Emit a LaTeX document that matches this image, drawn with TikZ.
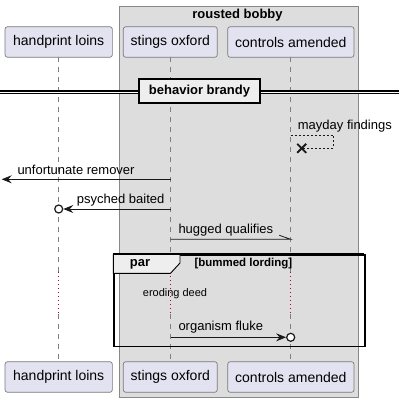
\documentclass[tikz,border=0pt]{standalone}
\usepackage{fontspec}
\setmainfont{Liberation Sans}
\usetikzlibrary{arrows.meta,calc}
\definecolor{partfill}{HTML}{E2E2F0}
\definecolor{partline}{HTML}{7A7A7A}
\definecolor{boxfill}{HTML}{DDDDDD}
\definecolor{boxline}{HTML}{888888}
\definecolor{lifeline}{HTML}{7F7F7F}
\definecolor{delayred}{HTML}{B0003E}
\definecolor{headfill}{HTML}{EEEEEE}
\begin{document}
\begin{tikzpicture}[x=1pt,y=-1pt,
  part/.style={draw=partline,line width=0.7pt,fill=partfill,rounded corners=2.5pt,
    minimum height=30.6pt,inner sep=0pt,font=\fontsize{14}{16}\selectfont},
  life/.style={draw=lifeline,line width=0.6pt,dash pattern=on 5pt off 5pt},
  delayline/.style={draw=delayred,line width=0.7pt,dash pattern=on 1pt off 3pt},
  msg/.style={draw=black!90,line width=0.8pt},
  msgtext/.style={font=\fontsize{13}{15}\selectfont,inner sep=0pt,anchor=west},
  tip/.style={-{Stealth[length=10pt,width=8pt,inset=3.5pt]}},
  circ/.style={draw=black!90,line width=1.2pt,fill=white,circle,minimum size=8pt,inner sep=0pt}]
\useasboundingbox (0,0) rectangle (405,402);
% group box
\node[draw=boxline,line width=0.8pt,fill=boxfill,minimum width=239pt,minimum height=391pt,inner sep=0pt,anchor=north west] (grp) at (119.3,6) {};
\node[font=\bfseries\fontsize{13}{15}\selectfont,inner sep=0pt] (grptitle) at (237.5,15.5) {rousted bobby};
% participants
\node[part,minimum width=107.3pt] (At) at (58.7,42) {handprint loins};
\node[part,minimum width=94pt] (Bt) at (170.3,42) {stings oxford};
\node[part,minimum width=126.3pt] (Ct) at (290.85,42) {controls amended};
\node[part,minimum width=107.3pt] (Ab) at (58.7,377) {handprint loins};
\node[part,minimum width=94pt] (Bb) at (170.3,377) {stings oxford};
\node[part,minimum width=126.3pt] (Cb) at (290.85,377) {controls amended};
% lifeline coordinates
\foreach \n/\x in {A/58.7,B/170.7,C/290.7}{
  \coordinate (\n top) at (\x,57.3);
  \coordinate (\n d1) at (\x,272);
  \coordinate (\n d2) at (\x,314);
  \coordinate (\n bot) at (\x,361.7);
}
\foreach \n in {A,B,C}{
  \draw[life] (\n top) -- (\n d1);
  \draw[delayline] (\n d1) -- (\n d2);
  \draw[life] (\n d2) -- (\n bot);
}
% divider
\coordinate (dl) at (0,92.2);
\coordinate (dr) at (399,92.2);
\draw[black,line width=3.6pt] (dl) -- (dr);
\draw[white,line width=1.4pt] (dl) -- (dr);
\node[draw=black,line width=2pt,fill=headfill,minimum width=121pt,minimum height=23.7pt,inner sep=0pt,font=\bfseries\fontsize{13}{15}\selectfont] (div) at (199.5,90.8) {behavior brandy};
% self message with destroy
\coordinate (m1a) at (290.7,135);
\coordinate (m1b) at (333.3,135);
\coordinate (m1c) at (333.3,148.3);
\coordinate (m1d) at (301.7,148.3);
\draw[black!90,line width=0.7pt,dash pattern=on 2pt off 2pt] (m1a) -- (m1b) -- (m1c) -- (m1d);
\draw[black!90,line width=1.8pt] ($(m1d)+(-4.5,-4.5)$) -- ($(m1d)+(4.5,4.5)$) ($(m1d)+(-4.5,4.5)$) -- ($(m1d)+(4.5,-4.5)$);
\node[msgtext] (t1) at (297.7,126.5) {mayday findings};
% unfortunate remover
\coordinate (m2s) at (170.7,179.3);
\coordinate (m2e) at (1.7,179.3);
\draw[msg,tip] (m2s) -- (m2e);
\node[msgtext] (t2) at (17.3,170) {unfortunate remover};
% psyched baited
\node[circ] (c3) at (58.7,209) {};
\coordinate (m3s) at (170.7,209);
\draw[msg,tip] (m3s) -- (c3.east);
\node[msgtext] (t3) at (76.7,200) {psyched baited};
% hugged qualifies
\coordinate (m4s) at (170.7,239.3);
\coordinate (m4e) at (290.7,239.3);
\coordinate (m4h) at (279.3,235.3);
\draw[msg] (m4s) -- (m4e) -- (m4h);
\node[msgtext] (t4) at (178.3,230) {hugged qualifies};
% par frame
\node[draw=black,line width=1.6pt,minimum width=251pt,minimum height=91.7pt,inner sep=0pt,anchor=north west] (par) at (113.3,254) {};
\coordinate (pt1) at (113.3,254);
\coordinate (pt2) at (180,254);
\coordinate (pt3) at (180,263);
\coordinate (pt4) at (170.5,273.3);
\coordinate (pt5) at (113.3,273.3);
\draw[black,line width=0.9pt,fill=headfill] (pt1) -- (pt2) -- (pt3) -- (pt4) -- (pt5) -- cycle;
\draw[black,line width=1.6pt] (113.3,254) -- (364.3,254);
\node[font=\bfseries\fontsize{13}{15}\selectfont,inner sep=0pt] (parlbl) at (140,264) {par};
\node[font=\bfseries\fontsize{11.5}{13}\selectfont,inner sep=0pt,anchor=west] (pcond) at (194.3,264) {[bummed lording]};
\node[font=\fontsize{11}{13}\selectfont,inner sep=0pt,anchor=west] (delay) at (142.7,294) {eroding deed};
% organism fluke
\node[circ] (c5) at (290.7,337.3) {};
\coordinate (m5s) at (170.7,337.3);
\draw[msg,tip] (m5s) -- (c5.west);
\node[msgtext] (t5) at (178.3,327.3) {organism fluke};
\end{tikzpicture}
\end{document}
